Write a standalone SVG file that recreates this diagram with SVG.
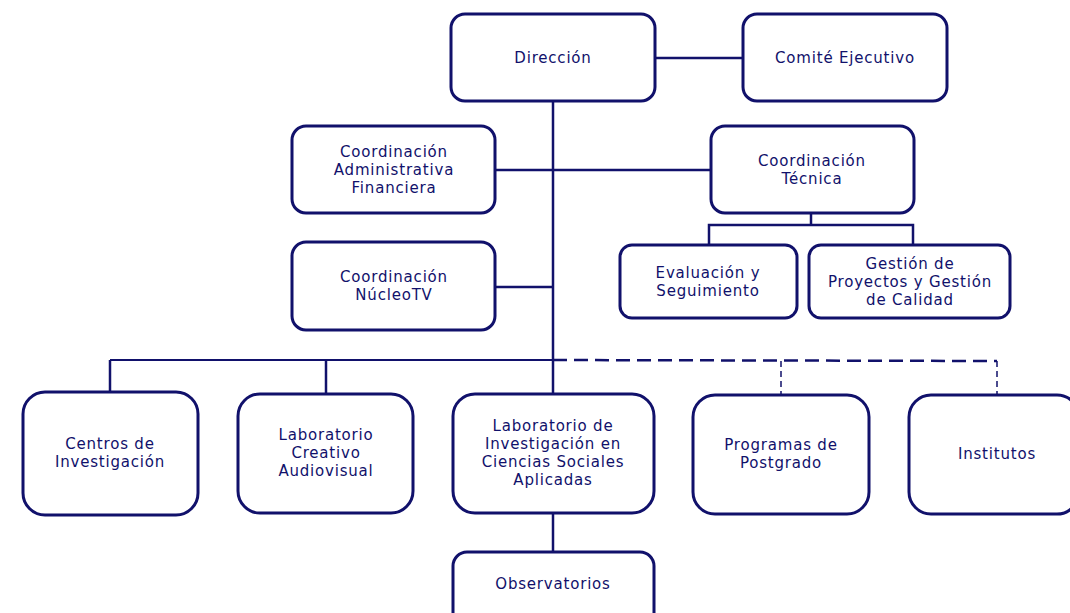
<svg xmlns="http://www.w3.org/2000/svg" width="1070" height="613" viewBox="0 0 1070 613">
<style>
.box{fill:#fff;stroke:#11116b;stroke-width:3}
.t{font-family:"DejaVu Sans","Open Sans",sans-serif;font-size:15px;letter-spacing:0.8px;fill:#11116b;text-anchor:middle}
.c{stroke:#11116b;stroke-width:2.5;fill:none}
.d{stroke:#11116b;stroke-width:2.5;fill:none;stroke-dasharray:14,7}
.dv{stroke:#11116b;stroke-width:1.5;fill:none;stroke-dasharray:6,4}
</style>
<rect width="1070" height="613" fill="#fff"/>
<g id="connectors">
<line class="c" x1="655" y1="58" x2="743" y2="58"/>
<line class="c" x1="553" y1="101" x2="553" y2="394"/>
<line class="c" x1="495" y1="170" x2="711" y2="170"/>
<line class="c" x1="495" y1="287" x2="553" y2="287"/>
<polyline class="c" points="811,213 811,225"/>
<polyline class="c" points="709,246 709,225 913,225 913,246"/>
<line class="c" x1="110" y1="360" x2="553" y2="360" style="stroke-width:2"/>
<line class="c" x1="110" y1="360" x2="110" y2="392"/>
<line class="c" x1="326" y1="360" x2="326" y2="394"/>
<polyline class="d" points="553,360 997,361"/>
<line class="dv" x1="781" y1="361" x2="781" y2="395"/>
<line class="dv" x1="997" y1="361" x2="997" y2="395"/>
<line class="c" x1="553" y1="513" x2="553" y2="552"/>
</g>
<g id="direccion"><rect class="box" x="451" y="14" width="204" height="87" rx="14"/><text class="t" x="553" y="63">Dirección</text></g>
<g id="comite"><rect class="box" x="743" y="14" width="204" height="87" rx="14"/><text class="t" x="845" y="63">Comité Ejecutivo</text></g>
<g id="coord-admin"><rect class="box" x="292" y="126" width="203" height="87" rx="14"/><text class="t" x="394" y="157">Coordinación</text><text class="t" x="394" y="175">Administrativa</text><text class="t" x="394" y="193">Financiera</text></g>
<g id="coord-tecnica"><rect class="box" x="711" y="126" width="203" height="87" rx="14"/><text class="t" x="812" y="166">Coordinación</text><text class="t" x="812" y="184">Técnica</text></g>
<g id="evaluacion"><rect class="box" x="620" y="245" width="177" height="73" rx="12"/><text class="t" x="708" y="278">Evaluación y</text><text class="t" x="708" y="296">Seguimiento</text></g>
<g id="gestion"><rect class="box" x="809" y="245" width="201" height="73" rx="12"/><text class="t" x="910" y="269">Gestión de</text><text class="t" x="910" y="287">Proyectos y Gestión</text><text class="t" x="910" y="305">de Calidad</text></g>
<g id="nucleotv"><rect class="box" x="292" y="242" width="203" height="88" rx="14"/><text class="t" x="394" y="282">Coordinación</text><text class="t" x="394" y="300">NúcleoTV</text></g>
<g id="centros"><rect class="box" x="23" y="392" width="175" height="123" rx="22"/><text class="t" x="110" y="449">Centros de</text><text class="t" x="110" y="467">Investigación</text></g>
<g id="lab-creativo"><rect class="box" x="238" y="394" width="175" height="119" rx="22"/><text class="t" x="326" y="440">Laboratorio</text><text class="t" x="326" y="458">Creativo</text><text class="t" x="326" y="476">Audiovisual</text></g>
<g id="lab-investigacion"><rect class="box" x="453" y="394" width="201" height="119" rx="22"/><text class="t" x="553" y="431">Laboratorio de</text><text class="t" x="553" y="449">Investigación en</text><text class="t" x="553" y="467">Ciencias Sociales</text><text class="t" x="553" y="485">Aplicadas</text></g>
<g id="postgrado"><rect class="box" x="693" y="395" width="176" height="119" rx="22"/><text class="t" x="781" y="450">Programas de</text><text class="t" x="781" y="468">Postgrado</text></g>
<g id="institutos"><rect class="box" x="909" y="395" width="170" height="119" rx="22"/><text class="t" x="997" y="459">Institutos</text></g>
<g id="observatorios"><rect class="box" x="453" y="552" width="201" height="75" rx="14"/><text class="t" x="553" y="589">Observatorios</text></g>
</svg>
